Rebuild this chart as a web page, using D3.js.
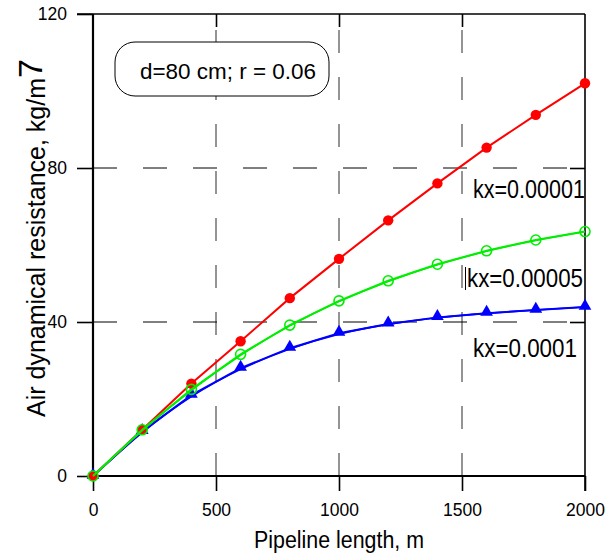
<!DOCTYPE html>
<html><head><meta charset="utf-8">
<script src="https://cdn.jsdelivr.net/npm/d3@7"></script>
<style>
body{margin:0;background:#fff;}
svg{display:block;font-family:"Liberation Sans",Arial,sans-serif;}
</style></head>
<body><svg id="c" width="615" height="558"></svg>
<script>
const lengths = [0,200,400,600,800,1000,1200,1400,1600,1800,2000];
const kx00001 = [0,12,24,35,46.2,56.4,66.4,76.0,85.3,93.8,102.0];
const kx00005 = [0,12,22.5,31.6,39.2,45.5,50.7,55.0,58.5,61.3,63.5];
const kx0001  = [0,11.6,21.0,28.0,33.2,37.1,39.5,41.2,42.3,43.1,43.9];
const xTicks = [0,500,1000,1500,2000];
const yTicks = [0,40,80,120];
const seriesLabels = ["kx=0.00001","kx=0.00005","kx=0.0001"];
const noteText = "d=80 cm; r = 0.06";

const svg = d3.select("#c");
const x = d3.scaleLinear().domain([0,2000]).range([93,585]);
const y = d3.scaleLinear().domain([0,120]).range([476,14]);

// vertical grid (gray dashed)
svg.append("g").selectAll("line").data([500,1000,1500]).join("line")
  .attr("x1",d=>x(d)).attr("x2",d=>x(d)).attr("y1",y(0)).attr("y2",y(120))
  .attr("stroke","#7a7a7a").attr("stroke-width",1.6).attr("stroke-dasharray","23,24");
// horizontal grid (black dashed)
svg.append("g").selectAll("line").data([40,80]).join("line")
  .attr("x1",x(0)).attr("x2",x(2000)).attr("y1",d=>y(d)).attr("y2",d=>y(d))
  .attr("stroke","#000").attr("stroke-width",1).attr("stroke-dasharray","24,26");

// axes
const gx = svg.append("g").attr("transform",`translate(0,${y(0)})`)
  .call(d3.axisBottom(x).tickValues(xTicks).tickSize(15).tickPadding(13).tickFormat(d3.format("d")));
const gy = svg.append("g").attr("transform",`translate(${x(0)},0)`)
  .call(d3.axisLeft(y).tickValues(yTicks).tickSize(16).tickPadding(10));
const gt = svg.append("g").attr("transform",`translate(0,${y(120)})`)
  .call(d3.axisTop(x).tickValues([500,1000,1500]).tickSize(-13).tickFormat(""));
const gr = svg.append("g").attr("transform",`translate(${x(2000)},0)`)
  .call(d3.axisRight(y).tickValues([40,80]).tickSize(-15).tickFormat(""));
[gx,gy,gt,gr].forEach(g=>{
  g.select(".domain").remove();
  g.selectAll(".tick line").attr("stroke","#000").attr("stroke-width",1.6);
  g.selectAll(".tick text").attr("fill","#000").attr("font-size",17.5)
    .attr("font-family","'Liberation Sans',Arial,sans-serif");
});
// frame
svg.append("line").attr("x1",x(0)).attr("x2",x(0)).attr("y1",y(0)).attr("y2",y(120)).attr("stroke","#000").attr("stroke-width",2.2);
svg.append("line").attr("x1",x(0)).attr("x2",x(2000)).attr("y1",y(0)).attr("y2",y(0)).attr("stroke","#000").attr("stroke-width",2.2);
svg.append("line").attr("x1",x(0)-16).attr("x2",x(2000)).attr("y1",y(120)).attr("y2",y(120)).attr("stroke","#000").attr("stroke-width",1.6);
svg.append("line").attr("x1",x(2000)).attr("x2",x(2000)).attr("y1",y(120)).attr("y2",y(0)+15).attr("stroke","#000").attr("stroke-width",1.6);

// series (drawn blue, red, green so green sits on top)
const series = [
  {vals:kx0001,color:"#0000ff",mark:"tri",dbl:true},
  {vals:kx00001,color:"#ff0000",mark:"dot",dbl:false},
  {vals:kx00005,color:"#00ee00",mark:"ring",dbl:true}
];
const lineLin = d3.line().x(d=>x(d[0])).y(d=>y(d[1]));
const lineSm = d3.line().x(d=>x(d[0])).y(d=>y(d[1])).curve(d3.curveBasis);
series.forEach(s=>{
  const pts = lengths.map((l,i)=>[l,s.vals[i]]);
  if(s.dbl){
    svg.append("path").datum(pts).attr("d",lineSm).attr("fill","none")
      .attr("stroke",s.color).attr("stroke-width",1.6);
  }
  svg.append("path").datum(pts).attr("d",lineLin).attr("fill","none")
    .attr("stroke",s.color).attr("stroke-width",2);
  const g = svg.append("g");
  if(s.mark==="dot"){
    g.selectAll("circle").data(pts).join("circle").attr("cx",d=>x(d[0])).attr("cy",d=>y(d[1]))
      .attr("r",5.2).attr("fill",s.color);
  } else if(s.mark==="ring"){
    g.selectAll("circle").data(pts).join("circle").attr("cx",d=>x(d[0])).attr("cy",d=>y(d[1]))
      .attr("r",5).attr("fill","none").attr("stroke",s.color).attr("stroke-width",1.6);
  } else {
    g.selectAll("path").data(pts).join("path")
      .attr("transform",d=>`translate(${x(d[0])},${y(d[1])-1})`)
      .attr("d",d3.symbol(d3.symbolTriangle,70)).attr("fill",s.color);
  }
});

// series labels
const lab = [{t:seriesLabels[0],x:473,y:198,w:112},{t:seriesLabels[1],x:467,y:287,w:116},{t:seriesLabels[2],x:473,y:357,w:104}];
svg.append("g").selectAll("text").data(lab).join("text")
  .attr("x",d=>d.x).attr("y",d=>d.y).attr("font-size",26)
  .attr("textLength",d=>d.w).attr("lengthAdjust","spacingAndGlyphs")
  .attr("fill","#000").text(d=>d.t);
svg.append("line").attr("x1",465.5).attr("x2",465.5).attr("y1",267).attr("y2",290).attr("stroke","#000").attr("stroke-width",1);

// note box
svg.append("rect").attr("x",115).attr("y",42).attr("width",214).attr("height",54)
  .attr("rx",20).attr("ry",20).attr("fill","#fff").attr("stroke","#000").attr("stroke-width",1);
svg.append("text").attr("x",140).attr("y",79).attr("font-size",22.5).attr("fill","#000")
  .attr("textLength",176).attr("lengthAdjust","spacingAndGlyphs").text(noteText);

// axis titles
svg.append("text").attr("x",x(1000)).attr("y",548).attr("text-anchor","middle")
  .attr("font-size",23).attr("textLength",170).attr("lengthAdjust","spacingAndGlyphs")
  .attr("fill","#000").text("Pipeline length, m");
const yt = svg.append("text").attr("transform","translate(45,417) rotate(-90)")
  .attr("font-size",25).attr("fill","#000");
yt.append("tspan").text("Air dynamical resistance, kg/m");
yt.append("tspan").attr("dy",-3).attr("font-size",34).text("7");
</script></body></html>
